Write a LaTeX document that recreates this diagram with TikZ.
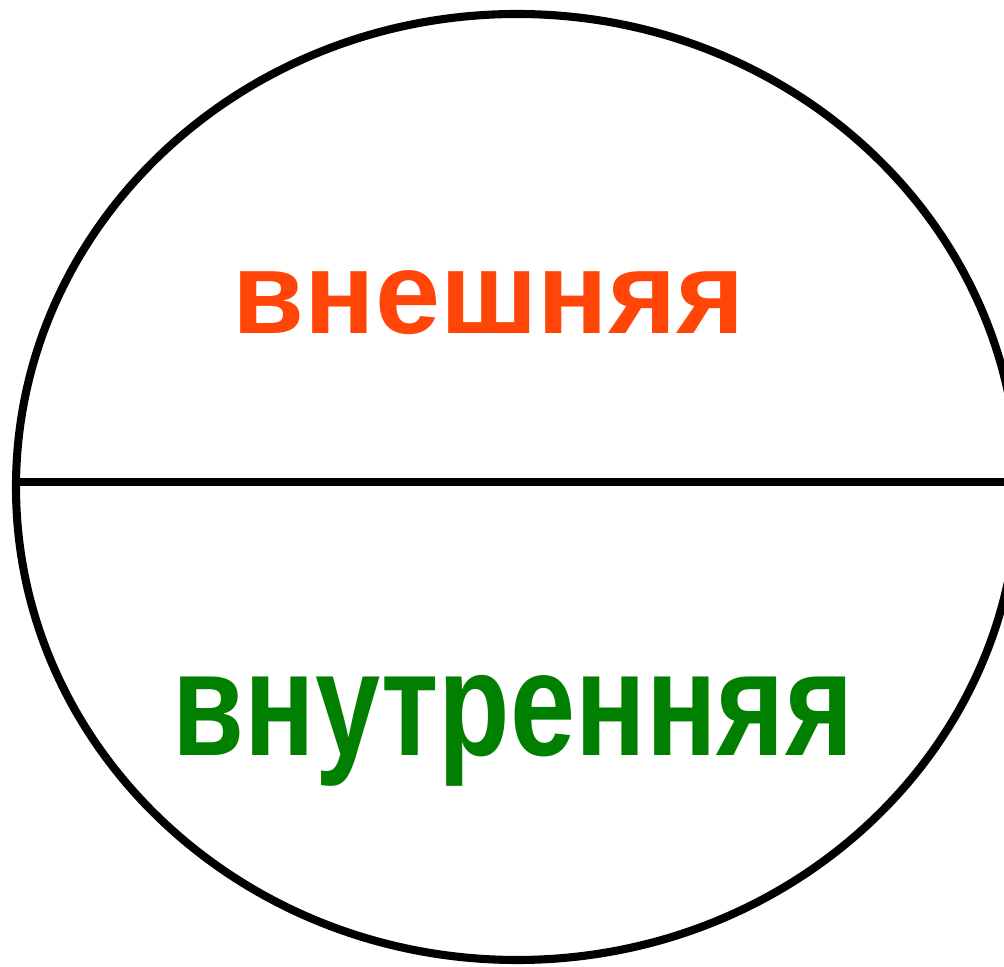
\documentclass[tikz,border=0pt]{standalone}
\usepackage{fontspec}
\setmainfont{Liberation Sans}
\usepackage{tikz}
\usetikzlibrary{positioning}

\definecolor{outerred}{HTML}{FF4507}
\definecolor{innergreen}{HTML}{007F00}

\begin{document}
\begin{tikzpicture}[
    outline/.style={draw=black, line width=2.3pt},
    lbl/.style={font=\fontsize{33.3pt}{40pt}\selectfont\bfseries, inner sep=0pt, anchor=base}
  ]
    \useasboundingbox (0,0) rectangle (10.04,9.67);
    \draw[outline] (5.17,4.80) ellipse [x radius=5.01, y radius=4.73];
    \coordinate (west) at (0.17,4.85);
    \coordinate (east) at (10.3,4.85);
    \draw[outline] (west) -- (east);

    \node[lbl, text=outerred] (outer) at (4.89,6.33) {внешняя};
    \node[lbl, text=innergreen] (inner) at (5.13,2.11) {\scalebox{1}[1.27]{внутренняя}};
  \end{tikzpicture}
\end{document}
